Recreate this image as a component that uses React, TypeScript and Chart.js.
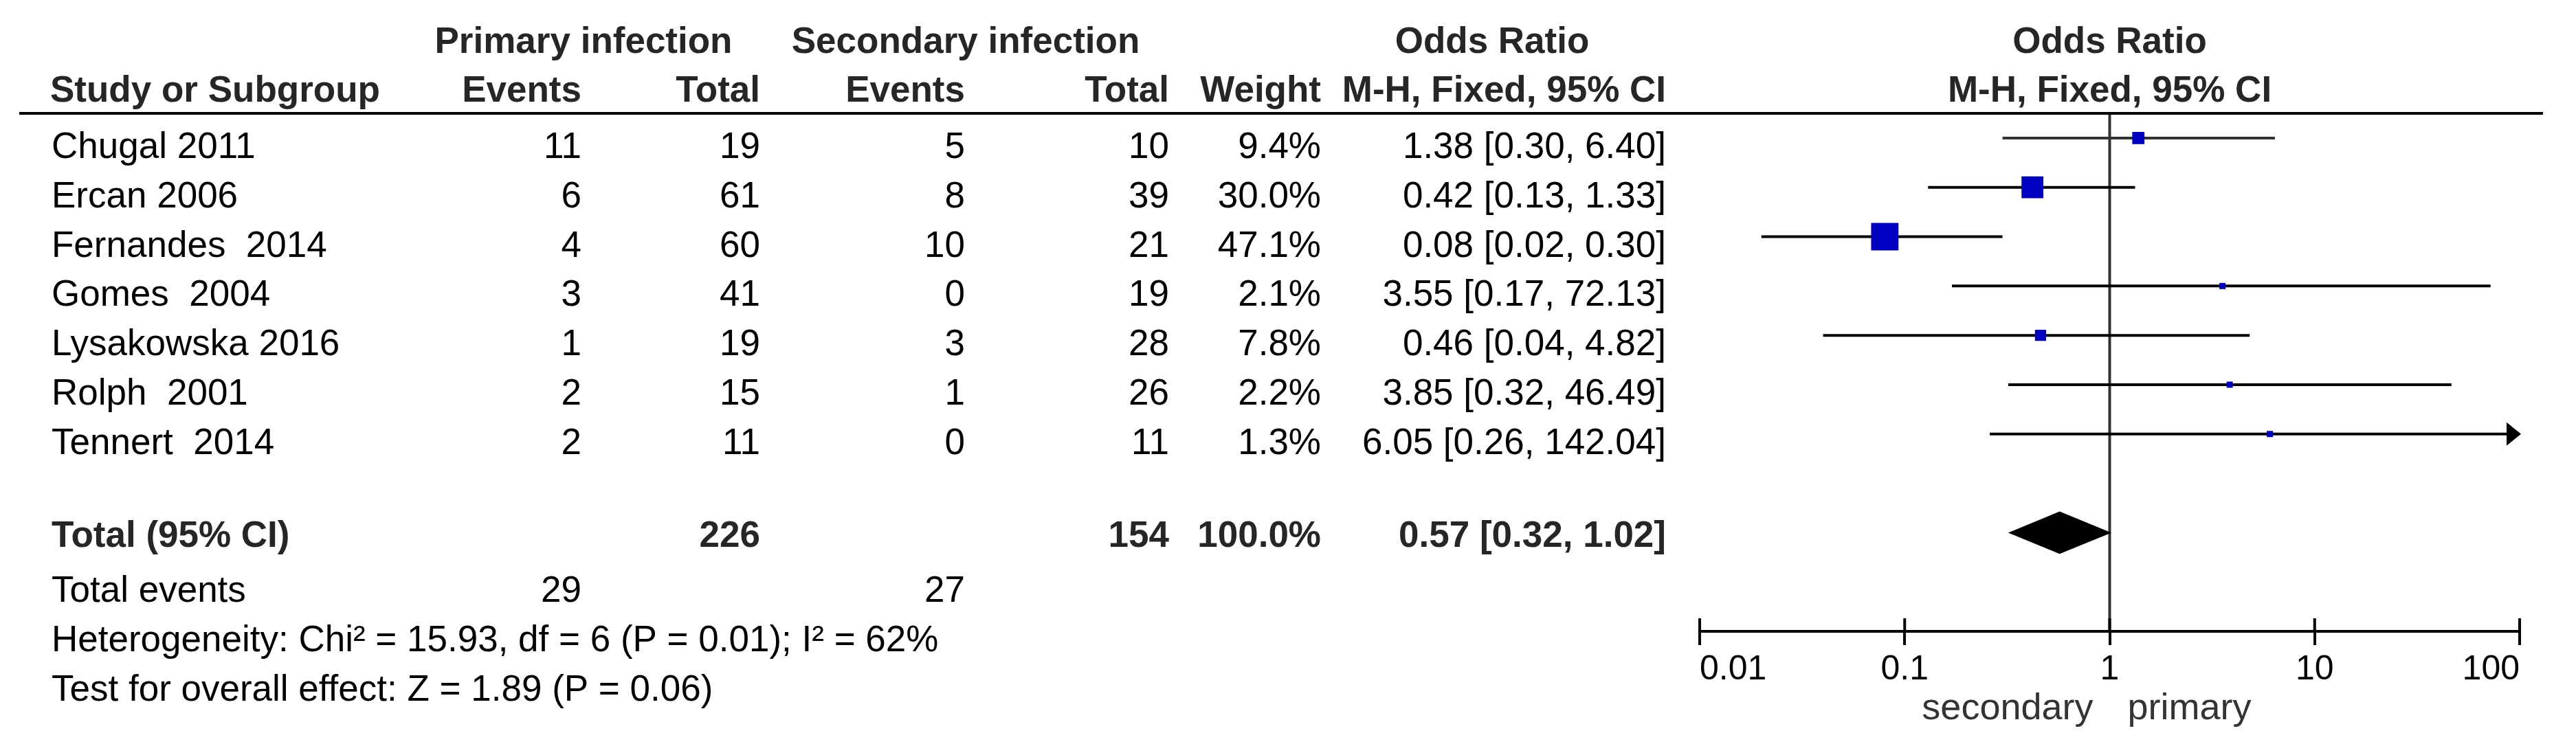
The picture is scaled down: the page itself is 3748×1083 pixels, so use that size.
import React, { useEffect, useRef } from 'react';
import { Chart, registerables } from 'chart.js';

Chart.register(...registerables);

// ---------- data ----------
const STUDY_NAMES = ['Chugal 2011', 'Ercan 2006', 'Fernandes  2014', 'Gomes  2004', 'Lysakowska 2016', 'Rolph  2001', 'Tennert  2014'];
const PRIMARY_EVENTS = [11, 6, 4, 3, 1, 2, 2];
const PRIMARY_TOTAL = [19, 61, 60, 41, 19, 15, 11];
const SECONDARY_EVENTS = [5, 8, 10, 0, 3, 1, 0];
const SECONDARY_TOTAL = [10, 39, 21, 19, 28, 26, 11];
const WEIGHTS = [9.4, 30.0, 47.1, 2.1, 7.8, 2.2, 1.3];
const ODDS_RATIOS = [1.38, 0.42, 0.08, 3.55, 0.46, 3.85, 6.05];
const CI_LOWER = [0.3, 0.13, 0.02, 0.17, 0.04, 0.32, 0.26];
const CI_UPPER = [6.4, 1.33, 0.3, 72.13, 4.82, 46.49, 142.04];

const TOTAL_PRIMARY = 226;
const TOTAL_SECONDARY = 154;
const TOTAL_WEIGHT = 100.0;
const POOLED_OR = 0.57;
const POOLED_LOWER = 0.32;
const POOLED_UPPER = 1.02;
const TOTAL_EVENTS_PRIMARY = 29;
const TOTAL_EVENTS_SECONDARY = 27;

const HETEROGENEITY_TEXT = 'Heterogeneity: Chi\u00B2 = 15.93, df = 6 (P = 0.01); I\u00B2 = 62%';
const OVERALL_EFFECT_TEXT = 'Test for overall effect: Z = 1.89 (P = 0.06)';

const TICK_VALUES = [0.01, 0.1, 1, 10, 100];
const TICK_LABELS = ['0.01', '0.1', '1', '10', '100'];
const AXIS_MIN = 0.01;
const AXIS_MAX = 100;
const FAVOURS_LEFT = 'secondary';
const FAVOURS_RIGHT = 'primary';

// ---------- layout / style ----------
const W = 3748;
const H = 1083;
const FONT = '"Liberation Sans", Arial, Helvetica, sans-serif';
const COL = { name: 75, ev1: 846, tot1: 1106, ev2: 1404, tot2: 1701, weight: 1922, ci: 2424 };
const TOTAL_ROW = 8;
const EVENTS_ROW = 9;
const HET_ROW = 10;
const TEST_ROW = 11;

const fmt2 = (v: number) => v.toFixed(2);
const ciText = (est: number, lo: number, hi: number) => `${fmt2(est)} [${fmt2(lo)}, ${fmt2(hi)}]`;

function txt(ctx: CanvasRenderingContext2D, s: string, x: number, y: number, align: CanvasTextAlign, bold = false, color = '#000', size = 53) {
  ctx.font = `${bold ? 'bold ' : ''}${size}px ${FONT}`;
  ctx.fillStyle = color;
  ctx.textAlign = align;
  ctx.textBaseline = 'alphabetic';
  ctx.fillText(s, x, y);
}

const forestPlugin = {
  id: 'forestPlugin',
  beforeDatasetsDraw(chart: any) {
    const { ctx, chartArea, scales } = chart;
    const xs = scales.x;
    const x1 = xs.getPixelForValue(1);
    ctx.save();
    // null line
    ctx.strokeStyle = '#333';
    ctx.lineWidth = 4;
    ctx.beginPath();
    ctx.moveTo(x1, chartArea.top);
    ctx.lineTo(x1, chartArea.bottom);
    ctx.stroke();
    ctx.restore();
  },
  afterDatasetsDraw(chart: any) {
    const { ctx, chartArea, scales } = chart;
    const xs = scales.x;
    const ys = scales.y;
    ctx.save();
    // header rule
    ctx.strokeStyle = '#000';
    ctx.lineWidth = 4;
    ctx.beginPath();
    ctx.moveTo(28, chartArea.top);
    ctx.lineTo(chartArea.right + 34, chartArea.top);
    ctx.stroke();

    // pooled diamond
    const yc = ys.getPixelForValue(TOTAL_ROW);
    const yt = ys.getPixelForValue(TOTAL_ROW - 0.43);
    const yb = ys.getPixelForValue(TOTAL_ROW + 0.43);
    ctx.fillStyle = '#000';
    ctx.beginPath();
    ctx.moveTo(xs.getPixelForValue(POOLED_LOWER), yc);
    ctx.lineTo(xs.getPixelForValue(POOLED_OR), yt);
    ctx.lineTo(xs.getPixelForValue(POOLED_UPPER), yc);
    ctx.lineTo(xs.getPixelForValue(POOLED_OR), yb);
    ctx.closePath();
    ctx.fill();

    // arrows for CIs beyond the axis
    CI_UPPER.forEach((hi, i) => {
      if (hi > AXIS_MAX) {
        const y = ys.getPixelForValue(i);
        const tip = chartArea.right + 2;
        ctx.beginPath();
        ctx.moveTo(tip, y);
        ctx.lineTo(tip - 21, y - 17);
        ctx.lineTo(tip - 21, y + 17);
        ctx.closePath();
        ctx.fill();
      }
    });

    // upper halves of axis ticks
    ctx.strokeStyle = '#000';
    ctx.lineWidth = 4;
    TICK_VALUES.forEach((v) => {
      const x = xs.getPixelForValue(v);
      ctx.beginPath();
      ctx.moveTo(x, chartArea.bottom - 19);
      ctx.lineTo(x, chartArea.bottom);
      ctx.stroke();
    });
    ctx.restore();
  },
  afterDraw(chart: any) {
    const { ctx, chartArea, scales } = chart;
    const xs = scales.x;
    const ys = scales.y;
    const x1 = xs.getPixelForValue(1);
    const hd = '#262626';
    ctx.save();
    // headers
    const h1 = chartArea.top - 88;
    const h2 = chartArea.top - 17;
    txt(ctx, 'Primary infection', 849, h1, 'center', true, hd);
    txt(ctx, 'Secondary infection', 1405, h1, 'center', true, hd);
    txt(ctx, 'Odds Ratio', 2171, h1, 'center', true, hd);
    txt(ctx, 'Odds Ratio', x1, h1, 'center', true, hd);
    txt(ctx, 'Study or Subgroup', COL.name - 2, h2, 'left', true, hd);
    txt(ctx, 'Events', COL.ev1, h2, 'right', true, hd);
    txt(ctx, 'Total', COL.tot1, h2, 'right', true, hd);
    txt(ctx, 'Events', COL.ev2, h2, 'right', true, hd);
    txt(ctx, 'Total', COL.tot2, h2, 'right', true, hd);
    txt(ctx, 'Weight', COL.weight, h2, 'right', true, hd);
    txt(ctx, 'M-H, Fixed, 95% CI', COL.ci, h2, 'right', true, hd);
    txt(ctx, 'M-H, Fixed, 95% CI', x1, h2, 'center', true, hd);

    // study rows
    STUDY_NAMES.forEach((name, i) => {
      const y = ys.getPixelForValue(i) + 29;
      txt(ctx, name, COL.name, y, 'left');
      txt(ctx, String(PRIMARY_EVENTS[i]), COL.ev1, y, 'right');
      txt(ctx, String(PRIMARY_TOTAL[i]), COL.tot1, y, 'right');
      txt(ctx, String(SECONDARY_EVENTS[i]), COL.ev2, y, 'right');
      txt(ctx, String(SECONDARY_TOTAL[i]), COL.tot2, y, 'right');
      txt(ctx, `${WEIGHTS[i].toFixed(1)}%`, COL.weight, y, 'right');
      txt(ctx, ciText(ODDS_RATIOS[i], CI_LOWER[i], CI_UPPER[i]), COL.ci, y, 'right');
    });

    // total row
    const yT = ys.getPixelForValue(TOTAL_ROW) + 21;
    txt(ctx, 'Total (95% CI)', COL.name, yT, 'left', true, hd);
    txt(ctx, String(TOTAL_PRIMARY), COL.tot1, yT, 'right', true, hd);
    txt(ctx, String(TOTAL_SECONDARY), COL.tot2, yT, 'right', true, hd);
    txt(ctx, `${TOTAL_WEIGHT.toFixed(1)}%`, COL.weight, yT, 'right', true, hd);
    txt(ctx, ciText(POOLED_OR, POOLED_LOWER, POOLED_UPPER), COL.ci, yT, 'right', true, hd);

    const yE = ys.getPixelForValue(EVENTS_ROW) + 29;
    txt(ctx, 'Total events', COL.name, yE, 'left');
    txt(ctx, String(TOTAL_EVENTS_PRIMARY), COL.ev1, yE, 'right');
    txt(ctx, String(TOTAL_EVENTS_SECONDARY), COL.ev2, yE, 'right');
    txt(ctx, HETEROGENEITY_TEXT, COL.name, ys.getPixelForValue(HET_ROW) + 29, 'left');
    txt(ctx, OVERALL_EFFECT_TEXT, COL.name, ys.getPixelForValue(TEST_ROW) + 29, 'left');

    // favours labels
    const yF = chartArea.bottom + 128;
    txt(ctx, FAVOURS_LEFT, x1 - 24, yF, 'right', false, '#333', 54);
    txt(ctx, FAVOURS_RIGHT, x1 + 26, yF, 'left', false, '#333', 54);
    ctx.restore();
  },
};

export default function App() {
  const canvasRef = useRef<HTMLCanvasElement>(null);

  useEffect(() => {
    document.body.style.margin = '0';
    const canvas = canvasRef.current;
    if (!canvas) return;

    const squareSide = WEIGHTS.map((w) => Math.max(9, 5.8 * Math.sqrt(w)));

    const chart = new Chart(canvas, {
      type: 'scatter',
      data: {
        datasets: [
          {
            label: 'Odds ratio',
            data: ODDS_RATIOS.map((v, i) => ({ x: v, y: i })),
            pointStyle: 'rect',
            pointRadius: squareSide.map((s) => s / (2 * Math.SQRT1_2)),
            pointHoverRadius: squareSide.map((s) => s / (2 * Math.SQRT1_2)),
            backgroundColor: '#0000C0',
            borderWidth: 0,
            order: 0,
          } as any,
          ...STUDY_NAMES.map((name, i) => ({
            label: `${name} CI`,
            data: [
              { x: CI_LOWER[i], y: i },
              { x: CI_UPPER[i], y: i },
            ],
            showLine: true,
            borderColor: i === 0 ? '#333' : '#000',
            borderWidth: 4,
            pointRadius: 0,
            pointHoverRadius: 0,
            order: 1,
          })),
        ],
      },
      options: {
        animation: false,
        responsive: true,
        maintainAspectRatio: false,
        events: [],
        layout: { padding: { left: 2473, right: 82, top: 165, bottom: 64 } },
        plugins: { legend: { display: false }, tooltip: { enabled: false } },
        scales: {
          x: {
            type: 'logarithmic',
            position: 'bottom',
            min: AXIS_MIN,
            max: AXIS_MAX,
            afterBuildTicks: (scale: any) => {
              scale.ticks = TICK_VALUES.map((v) => ({ value: v, major: false }));
            },
            afterFit: (scale: any) => {
              scale.height = 100;
            },
            ticks: {
              callback: (_v: any, i: number) => TICK_LABELS[i],
              font: { family: FONT, size: 50 },
              color: '#000',
              align: 'inner',
              padding: 6,
              autoSkip: false,
              maxRotation: 0,
              minRotation: 0,
            },
            grid: {
              drawOnChartArea: false,
              drawTicks: true,
              tickLength: 20,
              lineWidth: 4,
              color: '#000',
            },
            border: { display: true, width: 4, color: '#000' },
          },
          y: {
            type: 'linear',
            display: false,
            reverse: true,
            min: -0.5,
            max: 10,
          },
        },
      } as any,
      plugins: [forestPlugin],
    });

    return () => chart.destroy();
  }, []);

  return (
    <div style={{ position: 'absolute', left: 0, top: 0, width: W, height: H, background: '#fff' }}>
      <canvas ref={canvasRef} />
    </div>
  );
}
